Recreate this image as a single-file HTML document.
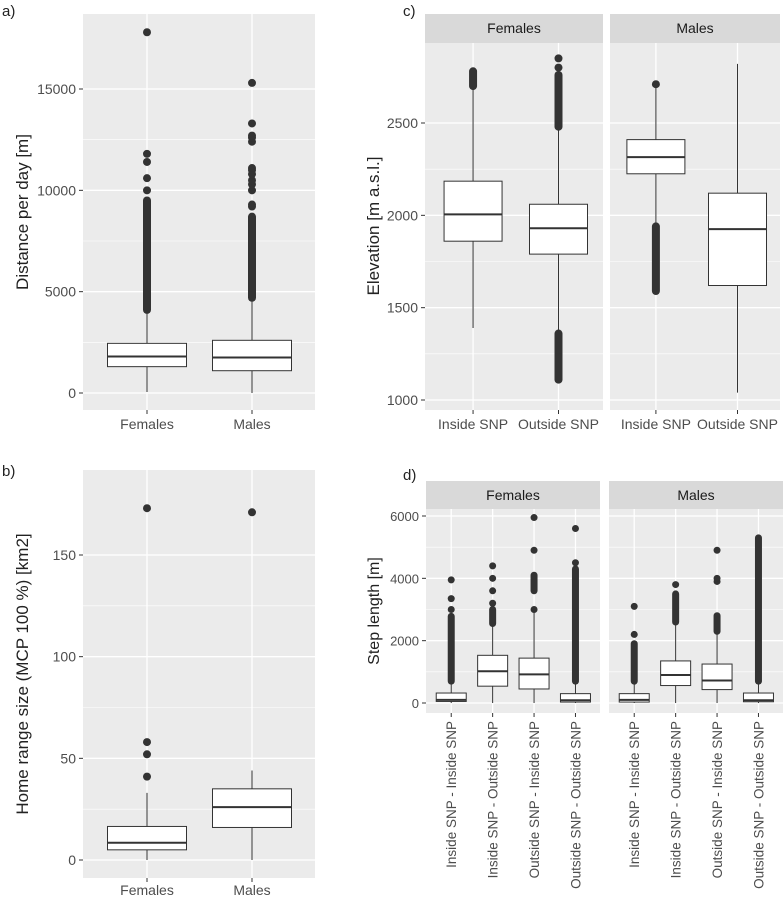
<!DOCTYPE html>
<html><head><meta charset="utf-8"><style>
body{margin:0;background:#fff}
svg{display:block;font-family:"Liberation Sans",Arial,sans-serif}
</style></head><body>
<svg id="s" width="784" height="899"></svg>
<script>
// Panel a data
const aCats=["Females","Males"];
const aTicks=[0,5000,10000,15000];
const aStats=[[50,1300,1800,2450,4100],[0,1100,1750,2600,4700]];
const aDense=[[4100,9500],[4700,8700]];
const aOut=[[10000,10600,11400,11800,17800],[9200,9300,10000,10300,10500,10800,11000,11100,12400,12600,12700,13300,15300]];
// Panel b data
const bCats=["Females","Males"];
const bTicks=[0,50,100,150];
const bStats=[[0,5,8.5,16.5,33],[0,16,26,35,44]];
const bOut=[[41,52,58,173],[171]];
// Panel c data
const cFacets=["Females","Males"];
const cCats=["Inside SNP","Outside SNP"];
const cTicks=[1000,1500,2000,2500];
const cStats=[[[1390,1860,2005,2185,2690],[1370,1790,1930,2060,2470]],[[1960,2225,2315,2410,2700],[1040,1620,1925,2120,2820]]];
const cDense=[[[[2700,2780]],[[1110,1360],[2480,2760]]],[[[1590,1940]],[]]];
const cOut=[[[],[2800,2850]],[[2710],[]]];
// Panel d data
const dFacets=["Females","Males"];
const dCats=["Inside SNP - Inside SNP","Inside SNP - Outside SNP","Outside SNP - Inside SNP","Outside SNP - Outside SNP"];
const dTicks=[0,2000,4000,6000];
const dStats=[[[0,50,100,320,700],[0,540,1020,1530,2500],[0,450,920,1440,3000],[0,30,90,300,700]],[[0,30,100,300,700],[0,560,900,1350,2500],[0,430,720,1250,2200],[0,40,90,320,700]]];
const dDense=[[[[700,2780]],[[2550,3000]],[[3600,4100]],[[700,4300]]],[[[700,1900]],[[2600,3500]],[[2300,2800]],[[700,5300]]]];
const dOut=[[[3000,3350,3950],[3200,3600,4000,4400],[3000,4900,5950],[4500,5600]],[[2200,3100],[3800],[3900,4000,4900],[]]];

const S=document.getElementById('s');const NS='http://www.w3.org/2000/svg';
function el(t,a,p){const e=document.createElementNS(NS,t);for(const k in a)e.setAttribute(k,a[k]);(p||S).appendChild(e);return e;}
function txt(x,y,s,a,name){const e=el('text',Object.assign({x:x,y:y},a));e.textContent=s;


return e;}
function lin(v,d0,d1,r0,r1){return r0+(v-d0)/(d1-d0)*(r1-r0);}

function panel(o){
 const g=el('g',{});
 
 
 el('rect',{x:o.x0,y:o.y0,width:o.x1-o.x0,height:o.y1-o.y0,fill:'#ebebeb'},g);
 for(let i=0;i<o.ticks.length-1;i++){const m=o.ys((o.ticks[i]+o.ticks[i+1])/2);
  el('line',{x1:o.x0,x2:o.x1,y1:m,y2:m,stroke:'#fff','stroke-width':0.6},g);}
 o.ticks.forEach(t=>{const y=o.ys(t);el('line',{x1:o.x0,x2:o.x1,y1:y,y2:y,stroke:'#fff','stroke-width':1.3},g);
  if(o.axis){el('line',{x1:o.x0-4,x2:o.x0,y1:y,y2:y,stroke:'#333'},g);
  txt(o.x0-7,y+5,String(t),{'text-anchor':'end','font-size':o.fs||14,fill:'#4d4d4d'},'y-tick-label');}});
 o.xs.forEach(x=>{el('line',{x1:x,x2:x,y1:o.y0,y2:o.y1,stroke:'#fff','stroke-width':1.3},g);
  el('line',{x1:x,x2:x,y1:o.y1,y2:o.y1+4,stroke:'#333'},g);});
 return g;
}
function box(g,x,w,st,ys,dense,outs,r,name){
 const b=el('g',{},g);
 
 
 el('line',{x1:x,x2:x,y1:ys(st[0]),y2:ys(st[4]),stroke:'#333','stroke-width':1},b);
 el('rect',{x:x-w/2,y:ys(st[3]),width:w,height:ys(st[1])-ys(st[3]),fill:'#fff',stroke:'#333','stroke-width':1},b);
 el('line',{x1:x-w/2,x2:x+w/2,y1:ys(st[2]),y2:ys(st[2]),stroke:'#333','stroke-width':2},b);
 dense.forEach(d=>{const y1=ys(d[1]),y2=ys(d[0]);el('rect',{x:x-r,y:y1-r,width:2*r,height:y2-y1+2*r,rx:r,fill:'#333'},b);});
 outs.forEach(v=>{el('circle',{cx:x,cy:ys(v),r:r,fill:'#333'},b);});
}
[['a)',2,16],['b)',2,476],['c)',403,16],['d)',403,480]].forEach(l=>txt(l[1],l[2],l[0],{'font-size':15,fill:'#222'},'panel-label'));

// Panel a
{const ys=v=>lin(v,0,15000,393,89);const xs=[147,252];
 const g=panel({name:'panel-a',x0:83,x1:315,y0:14,y1:410,ys:ys,ticks:aTicks,xs:xs,axis:true});
 aCats.forEach((c,i)=>{box(g,xs[i],79,aStats[i],ys,[aDense[i]],aOut[i],4,'box-a-'+c.toLowerCase());
  txt(xs[i],429,c,{'text-anchor':'middle','font-size':14,fill:'#4d4d4d'},'x-tick-label');});
 txt(0,0,'Distance per day [m]',{transform:'translate(28,212) rotate(-90)','text-anchor':'middle','font-size':17,fill:'#222'},'y-axis-title');}
// Panel b
{const ys=v=>lin(v,0,150,860,555);const xs=[147,252];
 const g=panel({name:'panel-b',x0:83,x1:315,y0:470,y1:878,ys:ys,ticks:bTicks,xs:xs,axis:true});
 bCats.forEach((c,i)=>{box(g,xs[i],79,bStats[i],ys,[],bOut[i],4,'box-b-'+c.toLowerCase());
  txt(xs[i],895,c,{'text-anchor':'middle','font-size':14,fill:'#4d4d4d'},'x-tick-label');});
 txt(0,0,'Home range size (MCP 100 %) [km2]',{transform:'translate(28,674) rotate(-90)','text-anchor':'middle','font-size':17,fill:'#222'},'y-axis-title');}
// Panel c
{const ys=v=>lin(v,1000,2500,400,123);const fx=[[425,603],[610,780]];
 cFacets.forEach((f,fi)=>{const [x0,x1]=fx[fi];const w=x1-x0;const xs=[x0+w*0.27,x0+w*0.75];
  const sr=el('rect',{x:x0,y:14,width:w,height:29,fill:'#d9d9d9'});
  
  
  txt((x0+x1)/2,33,f,{'text-anchor':'middle','font-size':14,fill:'#1a1a1a'},'strip-label');
  const g=panel({name:'panel-c-'+f.toLowerCase(),x0:x0,x1:x1,y0:43,y1:410,ys:ys,ticks:cTicks,xs:xs,axis:fi==0});
  cCats.forEach((c,i)=>{box(g,xs[i],58,cStats[fi][i],ys,cDense[fi][i],cOut[fi][i],4,'box-c');
   txt(xs[i],429,c,{'text-anchor':'middle','font-size':14,fill:'#4d4d4d'},'x-tick-label');});});
 txt(0,0,'Elevation [m a.s.l.]',{transform:'translate(379,226) rotate(-90)','text-anchor':'middle','font-size':17,fill:'#222'},'y-axis-title');}
// Panel d
{const ys=v=>lin(v,0,6000,703,516);const fx=[[426,600],[609,783]];
 dFacets.forEach((f,fi)=>{const [x0,x1]=fx[fi];const w=x1-x0;const xs=[0,1,2,3].map(i=>x0+w*(0.145+i*0.238));
  const sr=el('rect',{x:x0,y:481,width:w,height:28,fill:'#d9d9d9'});
  
  
  txt((x0+x1)/2,500,f,{'text-anchor':'middle','font-size':14,fill:'#1a1a1a'},'strip-label');
  const g=panel({name:'panel-d-'+f.toLowerCase(),x0:x0,x1:x1,y0:509,y1:713,ys:ys,ticks:dTicks,xs:xs,axis:fi==0,fs:13});
  dCats.forEach((c,i)=>{box(g,xs[i],30,dStats[fi][i],ys,dDense[fi][i],dOut[fi][i],3.5,'box-d');
   txt(0,0,c,{transform:'translate('+(xs[i]+5)+',721) rotate(-90)','text-anchor':'end','font-size':13.5,fill:'#4d4d4d'},'x-tick-label');});});
 txt(0,0,'Step length [m]',{transform:'translate(379,611) rotate(-90)','text-anchor':'middle','font-size':16,fill:'#222'},'y-axis-title');}
</script>
</body></html>
